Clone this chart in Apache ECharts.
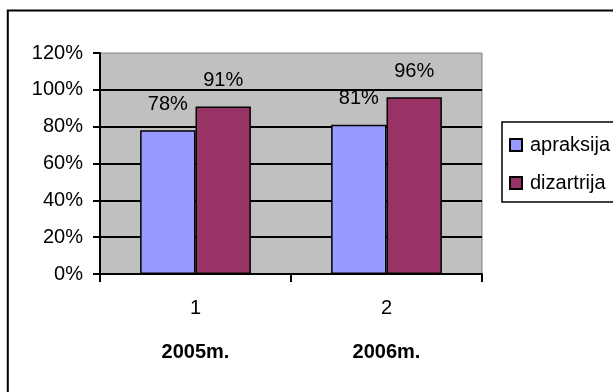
<!DOCTYPE html>
<html>
<head>
<meta charset="utf-8">
<script src="https://cdn.jsdelivr.net/npm/echarts@6/dist/echarts.min.js"></script>
<style>
  html, body { margin: 0; padding: 0; background: #fff; }
  #chart { width: 613px; height: 392px; }
</style>
</head>
<body>
<div id="chart"></div>
<script>
// Category numbers on the axis and the year shown under each one
const categories = ['1', '2'];
const years = ['2005m.', '2006m.'];

// Shares per year, in percent
const apraksija = [78, 81];
const dizartrija = [91, 96];

// Value axis ticks
const yTicks = [0, 20, 40, 60, 80, 100, 120];

const FONT = 'Liberation Sans, Arial, sans-serif';

const chart = echarts.init(document.getElementById('chart'), null, { renderer: 'canvas' });

const barLabel = {
  show: true,
  position: 'top',
  distance: 16,
  color: '#000',
  fontSize: 20,
  fontFamily: FONT,
  formatter: p => p.value + '%'
};

chart.setOption({
  backgroundColor: '#fff',
  animation: false,
  graphic: [{
    type: 'rect',
    shape: { x: 7.8, y: 10.5, width: 800, height: 600 },
    style: { fill: 'none', stroke: '#000', lineWidth: 2 },
    silent: true
  }],
  grid: {
    left: 100, right: 131, top: 53, bottom: 118,
    show: true,
    backgroundColor: '#C0C0C0',
    borderColor: '#808080',
    borderWidth: 1
  },
  legend: {
    orient: 'vertical',
    left: 502, top: 122,
    padding: [13, 4, 9, 7],
    itemGap: 18,
    itemWidth: 12,
    itemHeight: 12,
    icon: 'rect',
    borderColor: '#000',
    borderWidth: 1.5,
    backgroundColor: '#fff',
    textStyle: { color: '#000', fontSize: 20, fontFamily: FONT, padding: [0, 0, 0, 3] },
    data: ['apraksija', 'dizartrija']
  },
  xAxis: {
    type: 'category',
    data: categories,
    axisLine: { lineStyle: { color: '#000', width: 2 } },
    axisTick: { show: true, length: 8, lineStyle: { color: '#000', width: 2 } },
    axisLabel: {
      margin: 12,
      color: '#000',
      fontFamily: FONT,
      formatter: (v, i) => '{n|' + v + '}\n{y|' + years[i] + '}',
      rich: {
        n: { fontSize: 20, lineHeight: 44, fontFamily: FONT, color: '#000' },
        y: { fontSize: 20, lineHeight: 44, fontWeight: 'bold', fontFamily: FONT, color: '#000' }
      }
    },
    splitLine: { show: false }
  },
  yAxis: {
    type: 'value',
    min: yTicks[0],
    max: yTicks[yTicks.length - 1],
    interval: yTicks[1] - yTicks[0],
    axisLine: { show: true, lineStyle: { color: '#000', width: 2 } },
    axisTick: { show: true, length: 7, lineStyle: { color: '#000', width: 2 } },
    axisLabel: {
      margin: 17,
      color: '#000',
      fontSize: 20,
      fontFamily: FONT,
      formatter: v => v + '%'
    },
    splitLine: {
      show: true,
      showMinLine: false,
      showMaxLine: false,
      lineStyle: { color: '#000', width: 2 }
    }
  },
  series: [
    {
      name: 'apraksija',
      type: 'bar',
      data: apraksija,
      barGap: '0%',
      barCategoryGap: '42%',
      itemStyle: { color: '#9999FF', borderColor: '#000', borderWidth: 1.5 },
      label: barLabel
    },
    {
      name: 'dizartrija',
      type: 'bar',
      data: dizartrija,
      barGap: '0%',
      barCategoryGap: '42%',
      itemStyle: { color: '#993366', borderColor: '#000', borderWidth: 1.5 },
      label: barLabel
    }
  ]
});
</script>
</body>
</html>
